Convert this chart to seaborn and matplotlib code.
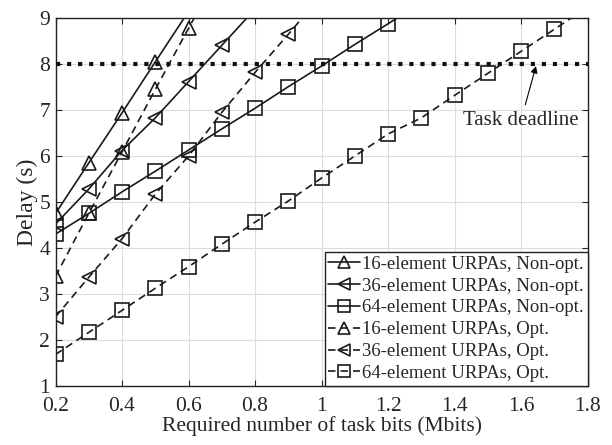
import pandas as pd
import matplotlib
matplotlib.use("Agg")
import matplotlib.pyplot as plt
import seaborn as sns

# 数据
bits_16 = [0.2, 0.3, 0.4, 0.5, 0.6]
non_opt_16 = [4.75, 5.85, 6.94, 8.05, 9.15]
bits_36 = [0.2, 0.3, 0.4, 0.5, 0.6, 0.7, 0.8]
non_opt_36 = [4.52, 5.28, 6.12, 6.83, 7.62, 8.41, 9.2]
bits_64 = [0.2, 0.3, 0.4, 0.5, 0.6, 0.7, 0.8, 0.9, 1.0, 1.1, 1.2, 1.3]
non_opt_64 = [4.3, 4.75, 5.22, 5.67, 6.13, 6.59, 7.04, 7.51, 7.96, 8.43, 8.88, 9.34]

bits_16_opt = [0.2, 0.3, 0.4, 0.5, 0.6, 0.7]
opt_16 = [3.38, 4.75, 6.09, 7.45, 8.78, 10.12]
bits_36_opt = [0.2, 0.3, 0.4, 0.5, 0.6, 0.7, 0.8, 0.9, 1.0]
opt_36 = [2.5, 3.36, 4.2, 5.17, 6.0, 6.95, 7.82, 8.65, 9.5]
bits_64_opt = [0.2, 0.3, 0.4, 0.5, 0.6, 0.7, 0.8, 0.9, 1.0, 1.1, 1.2,
               1.3, 1.4, 1.5, 1.6, 1.7, 1.8]
opt_64 = [1.68, 2.16, 2.64, 3.12, 3.59, 4.08, 4.56, 5.02, 5.52, 6.0, 6.48,
          6.83, 7.32, 7.8, 8.28, 8.76, 9.24]

deadline = 8
labels = ['16-element URPAs, Non-opt.', '36-element URPAs, Non-opt.',
          '64-element URPAs, Non-opt.', '16-element URPAs, Opt.',
          '36-element URPAs, Opt.', '64-element URPAs, Opt.']

sns.set_style("ticks")
plt.rcParams['font.family'] = ['Liberation Serif', 'DejaVu Serif']

fig = plt.figure(figsize=(6.12, 4.45), dpi=100)
ax = fig.add_axes([0.0907, 0.1333, 0.8693, 0.8256])

series = [
    (bits_16, non_opt_16, '^', '-'),
    (bits_36, non_opt_36, '<', '-'),
    (bits_64, non_opt_64, 's', '-'),
    (bits_16_opt, opt_16, '^', (0, (4.5, 3))),
    (bits_36_opt, opt_36, '<', (0, (4.5, 3))),
    (bits_64_opt, opt_64, 's', (0, (4.5, 3))),
]
for (x, y, m, ls), lab in zip(series, labels):
    sns.lineplot(x=x, y=y, ax=ax, color='#1a1a1a', linestyle=ls, linewidth=1.2,
                 marker=m, markersize=9.5, markerfacecolor='none',
                 markeredgecolor='#1a1a1a', markeredgewidth=1.2, label=lab)

# 任务截止时间
ax.axhline(deadline, color='#111111', linestyle=':', linewidth=3, zorder=3)
ax.annotate('Task deadline', xy=(1.645, 7.96), xytext=(1.6, 6.78),
            ha='center', va='center', fontsize=15,
            arrowprops=dict(arrowstyle='-|>', color='k', lw=0.8,
                            mutation_scale=10, shrinkA=2, shrinkB=0))

ax.set_xlim(0.2, 1.8)
ax.set_ylim(1, 9)
ax.set_xticks([0.2, 0.4, 0.6, 0.8, 1.0, 1.2, 1.4, 1.6, 1.8])
ax.set_xticklabels(['0.2', '0.4', '0.6', '0.8', '1', '1.2', '1.4', '1.6', '1.8'])
ax.set_yticks(range(1, 10))
ax.grid(True, color='#dcdcdc', linewidth=0.8)
ax.set_axisbelow(True)
ax.tick_params(direction='in', top=True, right=True, length=4, width=0.8,
               labelsize=15.5)
ax.tick_params(axis='x', pad=8)
ax.tick_params(axis='y', pad=4)
for s in ax.spines.values():
    s.set_color('#222222')
    s.set_linewidth(1)
ax.set_xlabel('Required number of task bits (Mbits)', fontsize=15.5, labelpad=0)
ax.set_ylabel('Delay (s)', fontsize=17, labelpad=1)

leg = ax.legend(loc='lower right', fontsize=13.5, frameon=True, fancybox=False,
                edgecolor='#222222', framealpha=1, borderaxespad=0,
                borderpad=0.2, labelspacing=0.25, handlelength=1.7,
                handletextpad=0.1, markerscale=0.85)
leg.get_frame().set_linewidth(1)

plt.savefig('out.png', dpi=100)
